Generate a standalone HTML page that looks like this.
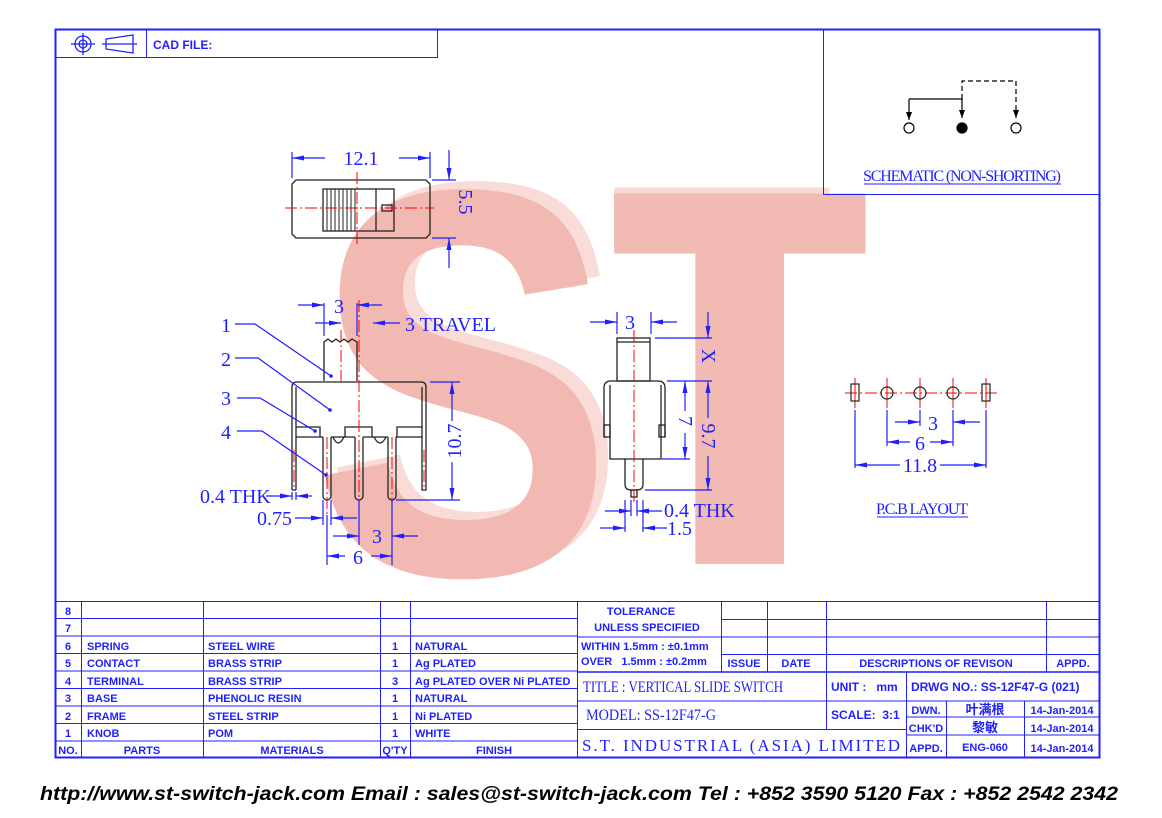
<!DOCTYPE html>
<html><head><meta charset="utf-8"><style>
html,body{margin:0;padding:0;background:#fff;}
svg{display:block;}
.b{fill:#1f1fff;font-family:"Liberation Sans Narrow","Liberation Sans",sans-serif;font-weight:bold;}
.s{fill:#1f1fff;font-family:"Liberation Serif",serif;}
</style></head><body>
<svg width="1162" height="818" viewBox="0 0 1162 818" xmlns="http://www.w3.org/2000/svg">
<defs>
<marker id="a" viewBox="0 0 12 5" refX="12" refY="2.5" markerWidth="12" markerHeight="5" markerUnits="userSpaceOnUse" orient="auto-start-reverse"><path d="M0,0L12,2.5L0,5z" fill="#1f1fff"/></marker>
<marker id="k" viewBox="0 0 8 6" refX="8" refY="3" markerWidth="8" markerHeight="6" markerUnits="userSpaceOnUse" orient="auto"><path d="M0,0L8,3L0,6z" fill="#000"/></marker>
</defs>

<!-- watermark ST -->
<g font-family="'Liberation Sans',sans-serif" font-weight="bold">
<text x="0" y="0" font-size="520" fill="#f9dcd8" transform="translate(324,566) scale(0.87,1.06)">S</text>
<text x="0" y="0" font-size="520" fill="#f1b9b2" transform="translate(312,574) scale(0.87,1.06)">S</text>
<g fill="#f8d9d5">
<text font-size="508" transform="translate(610,558) scale(0.72,1.06)">T</text>
</g>
<g fill="#f1bab3">
<text font-size="508" transform="translate(610,564) scale(0.72,1.06)">T</text>
<text font-size="508" transform="translate(628,564) scale(0.72,1.06)">T</text>
<text font-size="508" transform="translate(646,564) scale(0.72,1.06)">T</text>
</g>
</g>

<!-- frame -->
<rect x="55.5" y="29.5" width="1044" height="728" fill="none" stroke="#1f1fff" stroke-width="2"/>
<g stroke="#1f1fff" stroke-width="1" fill="none">
<path d="M55,57.5H437.5V29M146.5,29V57"/>
<path d="M823.5,29V194.5H1100"/>
</g>
<g stroke="#1f1fff" stroke-width="1.3" fill="none">
<circle cx="83" cy="44" r="8"/><circle cx="83" cy="44" r="4"/>
<path d="M71,44H95M83,33V55"/>
<path d="M106,39L133,35V53L106,49Z M102,44H137"/>
</g>
<text class="b" x="153" y="49" font-size="12">CAD FILE:</text>

<!-- schematic -->
<g stroke="#000" stroke-width="1.2" fill="none">
<path d="M909,99H962V118" marker-end="url(#k)"/>
<path d="M909,99V120" marker-end="url(#k)"/>
<path d="M962,99V81H1016V118" stroke-dasharray="5 3" marker-end="url(#k)"/>
<circle cx="909" cy="128" r="5"/>
<circle cx="1016" cy="128" r="5"/>
<circle cx="962" cy="128" r="5" fill="#000"/>
</g>
<text class="s" x="962" y="181" font-size="16" text-anchor="middle" textLength="198" lengthAdjust="spacing">SCHEMATIC (NON-SHORTING)</text>
<line x1="864" y1="184" x2="1061" y2="184" stroke="#1f1fff"/>

<!-- TOP VIEW -->
<g stroke="#222" stroke-width="1.3" fill="none">
<path d="M296,180H426L430,184V234L426,238H296L292,234V184Z"/>
<rect x="323" y="189" width="71" height="42"/>
<path d="M376,189V231"/>
<rect x="382" y="205" width="10" height="6"/>
<path d="M327,189V231M331,189V231M335,189V231M339,189V231M343,189V231M347,189V231M351,189V231M355,189V231" stroke-width="1"/>
</g>
<g stroke="#f00" stroke-width="1" stroke-dasharray="12 3 2 3">
<path d="M285,208H434M357,172V244"/>
</g>
<g stroke="#1f1fff" stroke-width="1.2" fill="none">
<path d="M292,152V178M430,152V178"/>
<path d="M325,158H292" marker-end="url(#a)"/><path d="M399,158H430" marker-end="url(#a)"/>
<path d="M432,180H456M432,238H456"/>
<path d="M449,150V180" marker-end="url(#a)"/><path d="M449,268V238" marker-end="url(#a)"/>
</g>
<text class="s" x="361" y="165" font-size="20" text-anchor="middle">12.1</text>
<text class="s" font-size="20" text-anchor="middle" transform="translate(459,202) rotate(90)">5.5</text>

<!-- FRONT VIEW -->
<g stroke="#222" stroke-width="1.3" fill="none">
<path d="M324,381V342L328,339L332,342L336,339L340,342L344,339L348,342L352,339L357,342V381"/>
<path d="M292,490V387Q292,382 297,382H421Q426,382 426,387V490H422V387M296,490V387M292,490H296"/>
<path d="M296,427H320V437M345,437V427H372V437M397,437V427H422"/>
<path d="M296,437H323M331,437H355M363,437H388M396,437H422"/>
<path d="M323,437V496A4,4 0 0 0 331,496V437"/>
<path d="M355,437V496A4,4 0 0 0 363,496V437"/>
<path d="M388,437V496A4,4 0 0 0 396,496V437"/>
<path d="M333,437Q338,449 344,437M374,437Q380,449 386,437"/>
</g>
<g stroke="#f00" stroke-width="1" stroke-dasharray="12 3 2 3">
<path d="M359,300V505M327,437V515M392,437V515M294,450V490M424,450V490M341,330V381"/>
</g>
<g stroke="#1f1fff" stroke-width="1.2" fill="none">
<path d="M324,303V336M357,303V336"/>
<path d="M298,305H324" marker-end="url(#a)"/><path d="M382,305H357" marker-end="url(#a)"/>
<path d="M315,323H341" marker-end="url(#a)"/><path d="M400,323H373" marker-end="url(#a)"/>
<path d="M430,382H460M396,500H460"/>
<path d="M452,421V382" marker-end="url(#a)"/><path d="M452,462V500" marker-end="url(#a)"/>
<path d="M292,492V500M296,492V500"/>
<path d="M266,496H292" marker-end="url(#a)"/><path d="M312,496H296" marker-end="url(#a)"/>
<path d="M323,500V525M331,500V525M359,500V545M392,500V565M327,515V565"/>
<path d="M295,518H323" marker-end="url(#a)"/><path d="M357,518H331" marker-end="url(#a)"/>
<path d="M333,536H359" marker-end="url(#a)"/><path d="M418,536H392" marker-end="url(#a)"/>
<path d="M345,556H327" marker-end="url(#a)"/><path d="M371,556H392" marker-end="url(#a)"/>
<path d="M235,324H255L331,376M235,358H258L330,410M237,398H260L315,431M237,431H262L326,475"/>
</g>
<g fill="#1f1fff"><circle cx="331" cy="376" r="1.8"/><circle cx="330" cy="410" r="1.8"/><circle cx="315" cy="431" r="1.8"/><circle cx="326" cy="475" r="1.8"/></g>
<g class="s" font-size="20">
<text x="339" y="313" text-anchor="middle">3</text>
<text x="405" y="331">3 TRAVEL</text>
<text x="221" y="332">1</text><text x="221" y="366">2</text><text x="221" y="405">3</text><text x="221" y="439">4</text>
<text x="200" y="503">0.4 THK</text>
<text x="257" y="525">0.75</text>
<text x="377" y="543" text-anchor="middle">3</text>
<text x="358" y="564" text-anchor="middle">6</text>
<text text-anchor="middle" transform="translate(461,441) rotate(-90)">10.7</text>
</g>

<!-- SIDE VIEW -->
<g stroke="#222" stroke-width="1.3" fill="none">
<rect x="617" y="338" width="33" height="43"/>
<path d="M617,342H650"/>
<path d="M610,385V459H661V385"/>
<path d="M604,437V388Q604,381 611,381H658Q665,381 665,388V437"/>
<rect x="604" y="425" width="6" height="12"/><rect x="659" y="425" width="6" height="12"/>
<path d="M625,459V484Q625,490 631,490H637Q643,490 643,484V459"/>
<rect x="631" y="490" width="6" height="7"/>
</g>
<g stroke="#f00" stroke-width="1" stroke-dasharray="12 3 2 3"><path d="M634,330V505"/></g>
<g stroke="#1f1fff" stroke-width="1.2" fill="none">
<path d="M617,312V334M651,312V334"/>
<path d="M590,322H617" marker-end="url(#a)"/><path d="M677,322H651" marker-end="url(#a)"/>
<path d="M655,338H712"/>
<path d="M708,312V338" marker-end="url(#a)"/>
<path d="M667,381H712M662,459H690M645,490H712"/>
<path d="M685,411V381" marker-end="url(#a)"/><path d="M685,433V459" marker-end="url(#a)"/>
<path d="M708,418V381" marker-end="url(#a)"/><path d="M708,456V490" marker-end="url(#a)"/>
<path d="M631,500V516M637,500V516M625,500V532M643,500V532"/>
<path d="M605,511H631" marker-end="url(#a)"/><path d="M662,511H637" marker-end="url(#a)"/>
<path d="M600,528H625" marker-end="url(#a)"/><path d="M667,528H643" marker-end="url(#a)"/>
</g>
<g class="s" font-size="20">
<text x="630" y="329" text-anchor="middle">3</text>
<text text-anchor="middle" transform="translate(702,356) rotate(90)">X</text>
<text text-anchor="middle" transform="translate(679,421) rotate(90)">7</text>
<text text-anchor="middle" transform="translate(702,436) rotate(90)">9.7</text>
<text x="664" y="517">0.4 THK</text>
<text x="667" y="535">1.5</text>
</g>

<!-- PCB LAYOUT -->
<g stroke="#f00" stroke-width="1" stroke-dasharray="12 3 2 3"><path d="M845,393H998"/></g>
<g stroke="#f00" stroke-width="1"><path d="M855,378V408M887,378V408M920,378V408M953,378V408M986,378V408"/></g>
<g stroke="#222" stroke-width="1.2" fill="none">
<rect x="851" y="384" width="8" height="17"/><rect x="982" y="384" width="8" height="17"/>
<circle cx="887" cy="393" r="6"/><circle cx="920" cy="393" r="6"/><circle cx="953" cy="393" r="6"/>
</g>
<g stroke="#1f1fff" stroke-width="1.2" fill="none">
<path d="M855,410V468M887,410V446M920,410V426M953,410V446M986,410V468"/>
<path d="M895,422H920" marker-end="url(#a)"/><path d="M980,422H953" marker-end="url(#a)"/>
<path d="M910,442H887" marker-end="url(#a)"/><path d="M930,442H953" marker-end="url(#a)"/>
<path d="M900,465H855" marker-end="url(#a)"/><path d="M940,465H986" marker-end="url(#a)"/>
</g>
<g class="s" font-size="20" text-anchor="middle">
<text x="933" y="430">3</text><text x="920" y="450">6</text><text x="920" y="472">11.8</text>
</g>
<text class="s" x="922" y="514" font-size="16" text-anchor="middle" textLength="92" lengthAdjust="spacing">P.C.B LAYOUT</text>
<line x1="877" y1="517" x2="968" y2="517" stroke="#1f1fff"/>

<!-- TABLE -->
<g stroke="#1f1fff" stroke-width="1" fill="none">
<path d="M55,601.5H1100"/>
<path d="M55,618.5H577M55,636H577M55,653.5H577M55,671H577M55,688.5H577M55,706H577M55,723.5H577M55,741H577"/>
<path d="M81.5,601V758M203.5,601V758M380.5,601V758M410.5,601V758M577.5,601V758"/>
<path d="M721,619.5H1100M577,637H1100M721,654.5H1100"/>
<path d="M577,672H1100" stroke-width="1.5"/>
<path d="M721.5,601V672M767.5,601V672M826.5,601V672M1046.5,601V672"/>
<path d="M577,701H1100M577,729.5H906M906,717H1100M906,735H1100"/>
<path d="M826.5,672V729M906.5,672V758M946.5,701V758M1024.5,701V758"/>
</g>
<g class="b" font-size="11">
<g text-anchor="middle"><text x="68" y="615">8</text><text x="68" y="632">7</text><text x="68" y="650">6</text><text x="68" y="667">5</text><text x="68" y="685">4</text><text x="68" y="702">3</text><text x="68" y="720">2</text><text x="68" y="737">1</text><text x="68" y="754">NO.</text>
<text x="142" y="754">PARTS</text><text x="292" y="754">MATERIALS</text><text x="395" y="754">Q'TY</text><text x="494" y="754">FINISH</text>
<text x="395" y="650">1</text><text x="395" y="667">1</text><text x="395" y="685">3</text><text x="395" y="702">1</text><text x="395" y="720">1</text><text x="395" y="737">1</text></g>
<text x="87" y="650">SPRING</text><text x="87" y="667">CONTACT</text><text x="87" y="685">TERMINAL</text><text x="87" y="702">BASE</text><text x="87" y="720">FRAME</text><text x="87" y="737">KNOB</text>
<text x="208" y="650">STEEL WIRE</text><text x="208" y="667">BRASS STRIP</text><text x="208" y="685">BRASS STRIP</text><text x="208" y="702">PHENOLIC RESIN</text><text x="208" y="720">STEEL STRIP</text><text x="208" y="737">POM</text>
<text x="415" y="650">NATURAL</text><text x="415" y="667">Ag PLATED</text><text x="415" y="685">Ag PLATED OVER Ni PLATED</text><text x="415" y="702">NATURAL</text><text x="415" y="720">Ni PLATED</text><text x="415" y="737">WHITE</text>
<g text-anchor="middle"><text x="641" y="615">TOLERANCE</text><text x="647" y="631">UNLESS SPECIFIED</text>
<text x="744" y="667">ISSUE</text><text x="796" y="667">DATE</text><text x="936" y="667">DESCRIPTIONS OF REVISON</text><text x="1073" y="667">APPD.</text></g>
<text x="581" y="650">WITHIN 1.5mm : ±0.1mm</text><text x="581" y="665">OVER &#160; 1.5mm : ±0.2mm</text>
<text x="831" y="691" font-size="12">UNIT :&#160;&#160; mm</text>
<text x="831" y="719" font-size="12">SCALE:&#160; 3:1</text>
<text x="911" y="691" font-size="12">DRWG NO.: SS-12F47-G (021)</text>
<g text-anchor="middle"><text x="926" y="714">DWN.</text><text x="926" y="732">CHK'D</text><text x="926" y="752">APPD.</text>
<text x="985" y="714" font-size="13" font-family="'Noto Sans CJK SC',sans-serif">叶满根</text>
<text x="985" y="732" font-size="13" font-family="'Noto Sans CJK SC',sans-serif">黎敏</text>
<text x="985" y="751">ENG-060</text>
<text x="1062" y="714">14-Jan-2014</text><text x="1062" y="732">14-Jan-2014</text><text x="1062" y="752">14-Jan-2014</text></g>
</g>
<text class="s" x="583" y="692" font-size="16" textLength="200" lengthAdjust="spacingAndGlyphs">TITLE : VERTICAL SLIDE SWITCH</text>
<text class="s" x="586" y="720" font-size="16" textLength="130" lengthAdjust="spacingAndGlyphs">MODEL: SS-12F47-G</text>
<text class="s" x="582" y="751" font-size="17" textLength="318" lengthAdjust="spacing">S.T. INDUSTRIAL (ASIA) LIMITED</text>

<!-- footer -->
<text x="40" y="800" font-family="'Liberation Sans',sans-serif" font-weight="bold" font-style="italic" font-size="19" fill="#000" textLength="1078" lengthAdjust="spacingAndGlyphs">http://www.st-switch-jack.com  Email : sales@st-switch-jack.com  Tel : +852 3590 5120  Fax : +852 2542 2342</text>
</svg>
</body></html>
